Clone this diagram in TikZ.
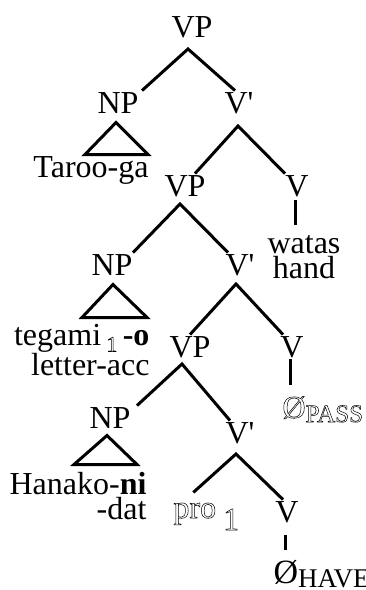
\documentclass[tikz,border=0pt]{standalone}
\usepackage{fontspec}
\setmainfont{Liberation Serif}[Ligatures=TeXOff]
\usepackage{tikz}

\newcommand\lab{\fontsize{32}{25}\selectfont}
\newcommand\hollow[1]{\special{pdf:literal 1 Tr 0.5 w}#1\special{pdf:literal 0 Tr}}

\begin{document}
\begin{tikzpicture}[x=1pt,y=-1pt]
        \tikzstyle{every path}=[line width=3pt]
        \tikzstyle{every node}=[inner sep=0pt,anchor=base,font=\lab]
        \useasboundingbox (0,0) rectangle (366,590);

        \node (vp1) at (192,37) {VP};
        \node (np1) at (118,113) {NP};
        \node (vb1) at (239,113) {V'};
        \node (tar) at (91,177) {Taroo-ga};
        \node (vp2) at (185,196) {VP};
        \node (v1) at (297,196) {V};
        \node[align=center,anchor=north] (wat) at (304,234) {watas\\hand};
        \node (np2) at (112,275) {NP};
        \node (vb2) at (240,275) {V'};
        \node[align=right,anchor=north east] (teg) at (151,323) {tegami\,\raisebox{-6pt}{\fontsize{22}{22}\selectfont\hollow{1}}\,\textbf{-o}\\letter-acc};
        \node (vp3) at (190,357) {VP};
        \node (v3) at (292,357) {V};
        \node[anchor=base west] (pas) at (281,418) {\hollow{Ø}\raisebox{-4pt}{\fontsize{25}{25}\selectfont\hollow{PASS}}};
        \node (np3) at (110,428) {NP};
        \node (vb3) at (240,443) {V'};
        \node[align=right,anchor=north east] (han) at (148,471) {Hanako-\textbf{ni}\\-dat};
        \node[anchor=base west] (pro) at (172,518) {\hollow{pro}\kern7pt\raisebox{-12pt}{\hollow{1}}};
        \node (v4) at (287,522) {V};
        \node[anchor=base west] (hav) at (272,583) {\fontsize{34}{34}\selectfont Ø\raisebox{-4pt}{\fontsize{27}{27}\selectfont HAVE}};

        % branching
        \coordinate (a1) at ([xshift=-4pt,yshift=-10pt]vp1.south);
        \coordinate (a2) at ([xshift=-1pt,yshift=-11pt]vb1.south);
        \coordinate (a3) at ([xshift=-5pt,yshift=-6pt]vp2.south);
        \coordinate (a4) at ([xshift=-4pt,yshift=-7pt]vb2.south);
        \coordinate (a5) at ([xshift=-8pt,yshift=-5pt]vp3.south);
        \coordinate (a6) at ([xshift=-4pt,yshift=-9pt]vb3.south);
        \draw ([xshift=24pt]np1.north) -- (a1) -- ([xshift=-4pt]vb1.north);
        \draw ([xshift=10pt]vp2.north) -- (a2) -- ([xshift=-12pt]v1.north);
        \draw ([xshift=21pt]np2.north) -- (a3) -- ([xshift=-12pt]vb2.north);
        \draw (vp3.north) -- (a4) -- ([xshift=-9pt]v3.north);
        \draw ([xshift=27pt]np3.north) -- (a5) -- ([xshift=-10pt]vb3.north);
        \draw ([xshift=-13pt,yshift=9pt]pro.north) -- (a6) -- ([xshift=-4pt]v4.north);

        % unary
        \draw[shorten <=2pt,shorten >=9pt] ([xshift=-2pt]v1.south) -- ([xshift=-2pt]v1.south |- wat.north);
        \draw[shorten >=10pt] ([xshift=-2pt]v3.south) -- ([xshift=-2pt]v3.south |- pas.north);
        \draw[shorten <=11pt,shorten >=8pt] ([xshift=-2pt]v4.south) -- ([xshift=-2pt]v4.south |- hav.north);

        % triangles
        \draw ([xshift=-2pt,yshift=-8pt]np1.south) -- ++(-31,32) -- ++(63,0) -- cycle;
        \draw ([xshift=1pt,yshift=-8pt]np2.south) -- ++(-31,33) -- ++(65,0) -- cycle;
        \draw ([xshift=-3pt,yshift=-6pt]np3.south) -- ++(-33,29) -- ++(63,0) -- cycle;
    \end{tikzpicture}
\end{document}
